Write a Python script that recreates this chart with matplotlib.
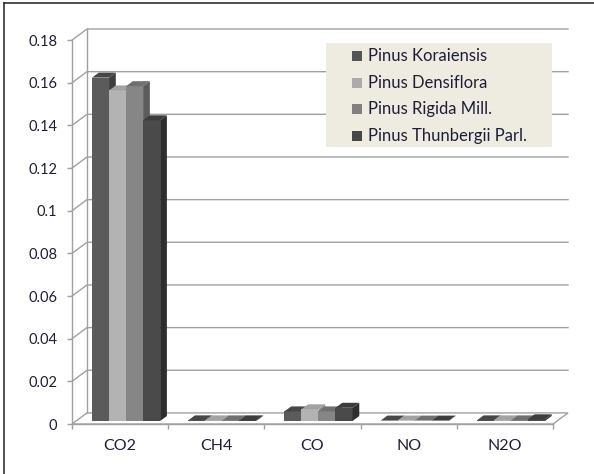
import matplotlib
matplotlib.use("Agg")
import matplotlib.pyplot as plt
from matplotlib.patches import Polygon, Rectangle
from matplotlib.lines import Line2D

plt.rcParams['font.family'] = ['Lato', 'DejaVu Sans']

# emission factors per gas for each pine species
gases = ['CO2', 'CH4', 'CO', 'NO', 'N2O']
species = ['Pinus Koraiensis', 'Pinus Densiflora', 'Pinus Rigida Mill.', 'Pinus Thunbergii Parl.']
koraiensis = [0.161, 0.0003, 0.0045, 0.0002, 0.0003]
densiflora = [0.155, 0.0003, 0.0055, 0.0002, 0.0003]
rigida = [0.157, 0.0003, 0.0045, 0.0002, 0.0003]
thunbergii = [0.141, 0.0003, 0.0062, 0.0002, 0.0008]
series = [koraiensis, densiflora, rigida, thunbergii]

yticks = [0, 0.02, 0.04, 0.06, 0.08, 0.1, 0.12, 0.14, 0.16, 0.18]

front_cols = ['#5b5b5b', '#b3b3b3', '#868686', '#4a4a4a']
top_cols = ['#474747', '#a2a2a2', '#707070', '#3c3c3c']
side_cols = ['#3e3e3e', '#8a8a8a', '#5c5c5c', '#2e2e2e']
grid_col = '#a0a0a0'
text_col = '#1e1e38'

W, H = 594, 474
fig = plt.figure(figsize=(W / 100, H / 100), dpi=100)

# fake 3-d depth of the chart box (in data units)
DX, DY = 0.156, 0.0052
ymax = yticks[-1]
ax = fig.add_axes([72 / W, 50 / H, 496 / W, 395 / H])
ax.set_xlim(0, len(gases) + DX)
ax.set_ylim(0, ymax + DY)

# floor
ax.add_patch(Polygon([(0, 0), (len(gases), 0), (len(gases) + DX, DY), (DX, DY)],
                     closed=True, facecolor='white', edgecolor=grid_col, lw=1.0, zorder=1, clip_on=False))
# side wall / back wall gridlines
for v in yticks[1:]:
    ax.plot([0, DX, len(gases) + DX], [v, v + DY, v + DY], color=grid_col, lw=1.0, zorder=1, clip_on=False)
ax.plot([DX, DX], [DY, ymax + DY], color=grid_col, lw=1.0, zorder=1, clip_on=False)

# 3-d looking columns
bar_w = 0.177
start = 0.166
f0, fd = 0.27, 0.45
ox, oy = f0 * DX, f0 * DY
bx, by = fd * DX, fd * DY
for i in range(len(gases)):
    for k, s in enumerate(series):
        v = s[i]
        x0 = i + start + k * bar_w + ox
        x1 = x0 + bar_w
        y0 = oy
        y1 = v + oy
        ax.add_patch(Polygon([(x0, y0), (x1, y0), (x1, y1), (x0, y1)], closed=True,
                             facecolor=front_cols[k], edgecolor='none', zorder=3, clip_on=False))
        ax.add_patch(Polygon([(x1, y0), (x1 + bx, y0 + by), (x1 + bx, y1 + by), (x1, y1)], closed=True,
                             facecolor=side_cols[k], edgecolor='none', zorder=3, clip_on=False))
        ax.add_patch(Polygon([(x0, y1), (x1, y1), (x1 + bx, y1 + by), (x0 + bx, y1 + by)], closed=True,
                             facecolor=top_cols[k], edgecolor='none', zorder=3, clip_on=False))

# axes
for side in ['top', 'right']:
    ax.spines[side].set_visible(False)
ax.spines['left'].set_bounds(0, ymax)
ax.spines['bottom'].set_bounds(0, len(gases))
for side in ['left', 'bottom']:
    ax.spines[side].set_color(grid_col)
    ax.spines[side].set_linewidth(1.0)
    ax.spines[side].set_zorder(2)

ax.set_yticks(yticks)
ax.set_yticklabels([f'{v:g}' for v in yticks])
ax.tick_params(axis='y', direction='out', length=3.6, width=1.0, color=grid_col,
               pad=7, labelsize=10.5, labelcolor=text_col)

ax.set_xticks(range(len(gases) + 1))
ax.set_xticklabels([])
ax.set_xticks([i + 0.5 for i in range(len(gases))], minor=True)
ax.set_xticklabels(gases, minor=True)
ax.tick_params(axis='x', which='major', direction='out', length=3.6, width=1.0, color=grid_col)
ax.tick_params(axis='x', which='minor', length=0, pad=11, labelsize=11.5, labelcolor=text_col)

# legend box
lx, ly, lw_, lh = 326, 43, 226, 104
fig.patches.append(Rectangle((lx / W, 1 - (ly + lh) / H), lw_ / W, lh / H,
                             transform=fig.transFigure, facecolor='#eeece1', edgecolor='none', zorder=5))
legend_cols = ['#555555', '#ababab', '#808080', '#454545']
for k, name in enumerate(species):
    cy = 56 + k * 26.7
    fig.patches.append(Rectangle((352 / W, 1 - (cy + 5) / H), 10 / W, 10 / H,
                                 transform=fig.transFigure, facecolor=legend_cols[k], edgecolor='none', zorder=6))
    fig.text(368 / W, 1 - cy / H, name, ha='left', va='center', fontsize=12, color=text_col, zorder=7)

# chart area border
fig.add_artist(Line2D([4 / W, 4 / W], [0, 1 - 3 / H], transform=fig.transFigure, color='#303030', lw=1.2))
fig.add_artist(Line2D([4 / W, 1], [1 - 3 / H, 1 - 3 / H], transform=fig.transFigure, color='#303030', lw=1.2))

fig.savefig('out.png', dpi=100)
